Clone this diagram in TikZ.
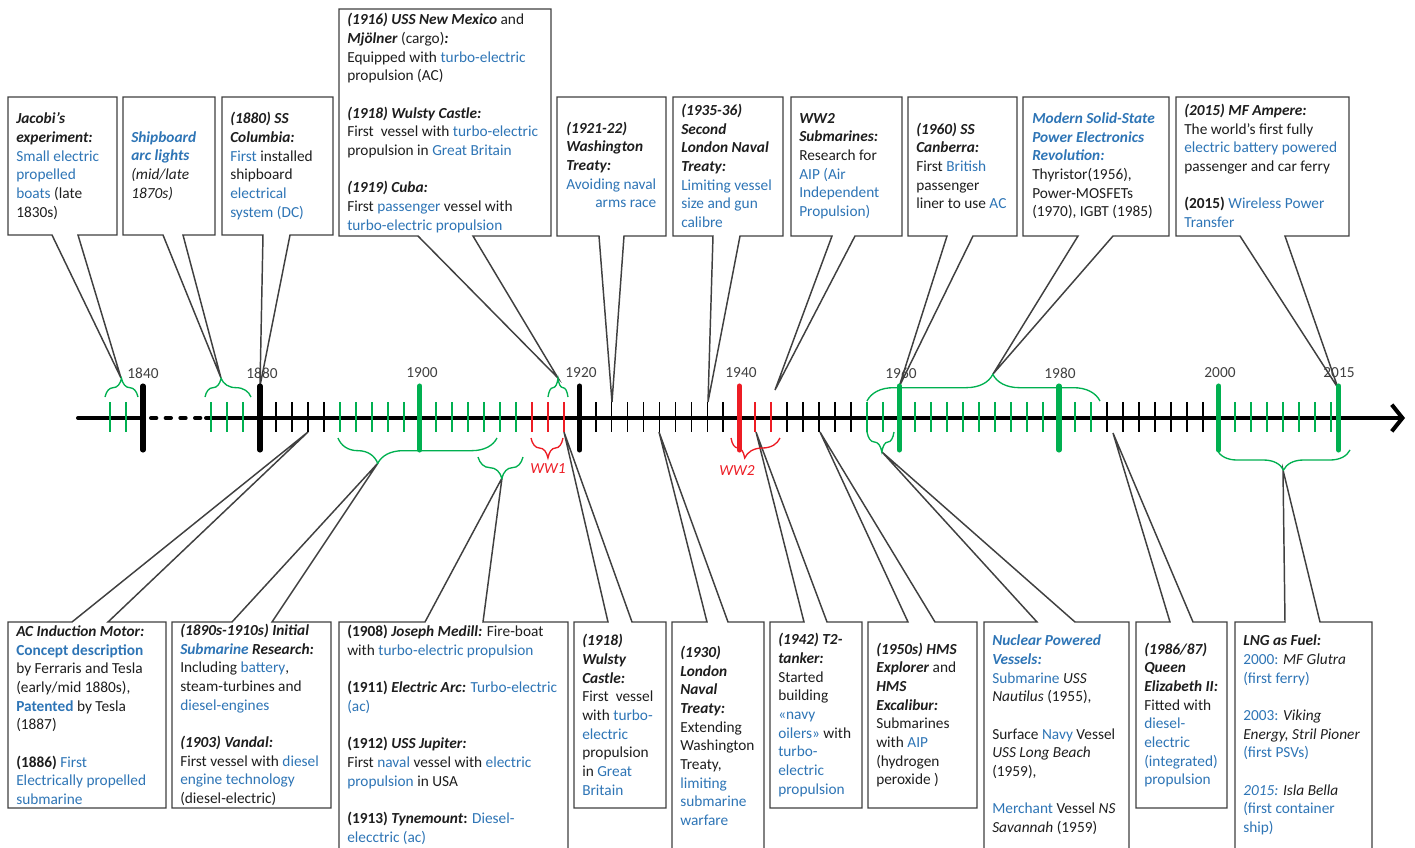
\documentclass[tikz,border=0pt]{standalone}
\usepackage{fontspec}
\setmainfont{Carlito}
\usetikzlibrary{decorations.pathreplacing,arrows.meta}
\definecolor{cblue}{RGB}{46,117,182}
\definecolor{cgreen}{RGB}{0,176,80}
\definecolor{cred}{RGB}{237,28,36}
\definecolor{cgray}{RGB}{64,64,64}
\definecolor{ctext}{RGB}{30,30,30}
\newcommand\bfi[1]{\textbf{\textit{#1}}}
\newcommand\blu[1]{\textcolor{cblue}{#1}}
\newcommand\bbi[1]{\textcolor{cblue}{\textbf{\textit{#1}}}}
\begin{document}
\begin{tikzpicture}[x=0.75pt,y=-0.75pt,
  box/.style={draw=cgray,line width=1.1pt,fill=white,line join=miter},
  txt/.style={anchor=west,inner sep=0pt,align=left,text=ctext,font=\fontsize{11.5pt}{14pt}\selectfont},
  yrl/.style={inner sep=0pt,text=cgray,font=\fontsize{11.5pt}{14pt}\selectfont},
  wwl/.style={inner sep=0pt,text=cred,font=\fontsize{11.5pt}{14pt}\selectfont\itshape},
  axisline/.style={line width=3pt,line cap=round,black},
  minortick/.style={line width=1.4pt},
  majortick/.style={line width=3.8pt,line cap=round},
  brc/.style={decorate,line width=1pt}]
\useasboundingbox (0,0) rectangle (1415,847);
\fill[white] (0,0) rectangle (1415,847);
\clip (0,0) rectangle (1415,847);

% ---------- tip coordinates on the timeline ----------
\coordinate (tA) at (121,378);
\coordinate (tB) at (221,378);
\coordinate (tC) at (260,386);
\coordinate (tD) at (558,378);
\coordinate (tE) at (612,402);
\coordinate (tF) at (708,402);
\coordinate (tG) at (775,390);
\coordinate (tH) at (899,387);
\coordinate (tI) at (993,374);
\coordinate (tJ) at (1338,388);
\coordinate (tK) at (308,432);
\coordinate (tL) at (378,463);
\coordinate (tM) at (502,478);
\coordinate (tN) at (564,432);
\coordinate (tO) at (659,432);
\coordinate (tP) at (756,432);
\coordinate (tQ) at (820,432);
\coordinate (tR) at (882,452);
\coordinate (tS) at (1113,433);
\coordinate (tT) at (1283,470);

% ---------- top callouts ----------
\draw[box] (8,97) -- (117,97) -- (117,235) -- (78,235) -- (tA) -- (52,235) -- (8,235) -- cycle;
\draw[box] (123,97) -- (215,97) -- (215,235) -- (183,235) -- (tB) -- (163,235) -- (123,235) -- cycle;
\draw[box] (222,97) -- (333,97) -- (333,235) -- (290,235) -- (tC) -- (263,235) -- (222,235) -- cycle;
\draw[box] (339,9) -- (551,9) -- (551,236) -- (473,236) -- (tD) -- (418,236) -- (339,236) -- cycle;
\draw[box] (557,97) -- (666,97) -- (666,236) -- (624,236) -- (tE) -- (599,236) -- (557,236) -- cycle;
\draw[box] (673,97) -- (783,97) -- (783,236) -- (740,236) -- (tF) -- (713,236) -- (673,236) -- cycle;
\draw[box] (791,97) -- (902,97) -- (902,236) -- (855,236) -- (tG) -- (832,236) -- (791,236) -- cycle;
\draw[box] (908,97) -- (1017,97) -- (1017,236) -- (973,236) -- (tH) -- (947,236) -- (908,236) -- cycle;
\draw[box] (1023,97) -- (1169,97) -- (1169,236) -- (1113,236) -- (tI) -- (1078,236) -- (1023,236) -- cycle;
\draw[box] (1176,97) -- (1349,97) -- (1349,236) -- (1285,236) -- (tJ) -- (1240,236) -- (1176,236) -- cycle;

% ---------- bottom callouts ----------
\draw[box] (8,622) -- (72,622) -- (tK) -- (108,622) -- (166,622) -- (166,808) -- (8,808) -- cycle;
\draw[box] (172,622) -- (232,622) -- (tL) -- (272,622) -- (331,622) -- (331,808) -- (172,808) -- cycle;
\draw[box] (339,622) -- (425,622) -- (tM) -- (483,622) -- (568,622) -- (568,855) -- (339,855) -- cycle;
\draw[box] (574,622) -- (608,622) -- (tN) -- (632,622) -- (666,622) -- (666,808) -- (574,808) -- cycle;
\draw[box] (672,622) -- (707,622) -- (tO) -- (728,622) -- (764,622) -- (764,855) -- (672,855) -- cycle;
\draw[box] (770,622) -- (804,622) -- (tP) -- (827,622) -- (862,622) -- (862,808) -- (770,808) -- cycle;
\draw[box] (868,622) -- (908,622) -- (tQ) -- (935,622) -- (977,622) -- (977,808) -- (868,808) -- cycle;
\draw[box] (984,622) -- (1037,622) -- (tR) -- (1075,622) -- (1129,622) -- (1129,855) -- (984,855) -- cycle;
\draw[box] (1136,622) -- (1170,622) -- (tS) -- (1193,622) -- (1227,622) -- (1227,808) -- (1136,808) -- cycle;
\draw[box] (1235,622) -- (1285,622) -- (tT) -- (1320,622) -- (1372,622) -- (1372,855) -- (1235,855) -- cycle;

% ---------- top texts ----------
\node[txt] (nA) at (16,166) {\bfi{Jacobi’s}\\ \bfi{experiment:}\\ \blu{Small electric}\\ \blu{propelled}\\ \blu{boats} (late\\ 1830s)};
\node[txt] (nB) at (131,166) {\bbi{Shipboard}\\ \bbi{arc lights}\\ \textit{(mid/late}\\ \textit{1870s)}};
\node[txt] (nC) at (230,166) {\bfi{(1880) SS}\\ \bfi{Columbia:}\\ \blu{First} installed\\ shipboard\\ \blu{electrical}\\ \blu{system (DC)}};
\node[txt] (nD) at (347,123) {\bfi{(1916) USS New Mexico} and\\ \bfi{Mjölner} (cargo)\bfi{:}\\ Equipped with \blu{turbo-electric}\\ propulsion (AC)\\[14pt] \bfi{(1918) Wulsty Castle:}\\ First\ \ vessel with \blu{turbo-electric}\\ propulsion in \blu{Great Britain}\\[14pt] \bfi{(1919) Cuba:}\\ First \blu{passenger} vessel with\\ \blu{turbo-electric propulsion}};
\node[txt] (nE) at (566,166) {\bfi{(1921-22)}\\ \bfi{Washington}\\ \bfi{Treaty:}\\ \blu{Avoiding naval}\\ \phantom{Avoiding naval}\llap{\blu{arms race}}};
\node[txt] (nF) at (681,166) {\bfi{(1935-36)}\\ \bfi{Second}\\ \bfi{London Naval}\\ \bfi{Treaty:}\\ \blu{Limiting vessel}\\ \blu{size and gun}\\ \blu{calibre}};
\node[txt] (nG) at (799,166) {\bfi{WW2}\\ \bfi{Submarines:}\\ Research for\\ \blu{AIP (Air}\\ \blu{Independent}\\ \blu{Propulsion)}};
\node[txt] (nH) at (916,166) {\bfi{(1960) SS}\\ \bfi{Canberra:}\\ First \blu{British}\\ passenger\\ liner to use \blu{AC}};
\node[txt] (nI) at (1032,166) {\bbi{Modern Solid-State}\\ \bbi{Power Electronics}\\ \bbi{Revolution:}\\ Thyristor(1956),\\ Power-MOSFETs\\ (1970), IGBT (1985)};
\node[txt] (nJ) at (1184,166) {\bfi{(2015) MF Ampere:}\\ The world’s first fully\\ \blu{electric battery powered}\\ passenger and car ferry\\[14pt] \textbf{(2015)} \blu{Wireless Power}\\ \blu{Transfer}};

% ---------- bottom texts ----------
\node[txt] (nK) at (16,715) {\bfi{AC Induction Motor:}\\ \blu{\textbf{Concept description}}\\ by Ferraris and Tesla\\ (early/mid 1880s),\\ \blu{\textbf{Patented}} by Tesla\\ (1887)\\[14pt] \textbf{(1886)} \blu{First}\\ \blu{Electrically propelled}\\ \blu{submarine}};
\node[txt] (nL) at (180,715) {\bfi{(1890s-1910s) Initial}\\ \bbi{Submarine} \bfi{Research:}\\ Including \blu{battery},\\ steam-turbines and\\ \blu{diesel-engines}\\[14pt] \bfi{(1903) Vandal:}\\ First vessel with \blu{diesel}\\ \blu{engine technology}\\ (diesel-electric)};
\node[txt] (nM) at (347,735) {\textbf{(1908)} \bfi{Joseph Medill:} Fire-boat\\ with \blu{turbo-electric propulsion}\\[14pt] \textbf{(1911)} \bfi{Electric Arc:} \blu{Turbo-electric}\\ \blu{(ac)}\\[14pt] \textbf{(1912)} \bfi{USS Jupiter:}\\ First \blu{naval} vessel with \blu{electric}\\ \blu{propulsion} in USA\\[14pt] \textbf{(1913)} \bfi{Tynemount}\textbf{:} \blu{Diesel-}\\ \blu{elecctric (ac)}};
\node[txt] (nN) at (582,715) {\bfi{(1918)}\\ \bfi{Wulsty}\\ \bfi{Castle:}\\ First\ \ vessel\\ with \blu{turbo-}\\ \blu{electric}\\ propulsion\\ in \blu{Great}\\ \blu{Britain}};
\node[txt] (nO) at (680,736) {\bfi{(1930)}\\ \bfi{London}\\ \bfi{Naval}\\ \bfi{Treaty:}\\ Extending\\ Washington\\ Treaty,\\ \blu{limiting}\\ \blu{submarine}\\ \blu{warfare}};
\node[txt] (nP) at (778,715) {\bfi{(1942) T2-}\\ \bfi{tanker:}\\ Started\\ building\\ \blu{«navy}\\ \blu{oilers»} with\\ \blu{turbo-}\\ \blu{electric}\\ \blu{propulsion}};
\node[txt] (nQ) at (876,715) {\bfi{(1950s) HMS}\\ \bfi{Explorer} and\\ \bfi{HMS}\\ \bfi{Excalibur:}\\ Submarines\\ with \blu{AIP}\\ (hydrogen\\ peroxide )};
\node[txt] (nR) at (992,735) {\bbi{Nuclear Powered}\\ \bbi{Vessels:}\\ \blu{Submarine} \textit{USS}\\ \textit{Nautilus} (1955),\\[14pt] Surface \blu{Navy} Vessel\\ \textit{USS Long Beach}\\ (1959),\\[14pt] \blu{Merchant} Vessel \textit{NS}\\ \textit{Savannah} (1959)};
\node[txt] (nS) at (1144,715) {\bfi{(1986/87)}\\ \bfi{Queen}\\ \bfi{Elizabeth II:}\\ Fitted with\\ \blu{diesel-}\\ \blu{electric}\\ \blu{(integrated)}\\ \blu{propulsion}};
\node[txt] (nT) at (1243,735) {\bfi{LNG as Fuel:}\\ \blu{2000:} \textit{MF Glutra}\\ \blu{(first ferry)}\\[14pt] \blu{2003:} \textit{Viking}\\ \textit{Energy, Stril Pioner}\\ \blu{(first PSVs)}\\[14pt] \blu{\textit{2015:}} \textit{Isla Bella}\\ \blu{(first container}\\ \blu{ship)}};

% ---------- axis ----------
\draw[axisline] (78,418) -- (143,418);
\draw[axisline,dash pattern=on 4pt off 7pt] (151,418) -- (203,418);
\draw[axisline,-{Straight Barb[length=8pt,width=20pt]},line join=round] (206,418) -- (1405,418);

% ---------- minor ticks ----------
\foreach \xp in {110,126,211,227,243}
  \draw[minortick,cgreen] (\xp,402) -- (\xp,432);
\foreach \yr in {1882,1884,1886,1888,1922,1924,1926,1928,1930,1932,1934,1936,1938,1946,1948,1950,1952,1954,1986,1988,1990,1992,1994,1996,1998}
  \draw[minortick,black] ({260+(\yr-1880)*7.99},402) -- ({260+(\yr-1880)*7.99},432);
\foreach \yr in {1890,1892,1894,1896,1898,1902,1904,1906,1908,1910,1912,1956,1958,1962,1964,1966,1968,1970,1972,1974,1976,1978,1982,1984,2002,2004,2006,2008,2010,2012,2014}
  \draw[minortick,cgreen] ({260+(\yr-1880)*7.99},402) -- ({260+(\yr-1880)*7.99},432);
\foreach \yr in {1914,1916,1918,1942,1944}
  \draw[minortick,cred] ({260+(\yr-1880)*7.99},402) -- ({260+(\yr-1880)*7.99},432);

% ---------- major ticks ----------
\draw[majortick,black] (143,386) -- (143,450);
\foreach \yr/\cc in {1880/black,1900/cgreen,1920/black,1940/cred,1960/cgreen,1980/cgreen,2000/cgreen,2015/cgreen}
  \draw[majortick,\cc] ({260+(\yr-1880)*7.99},386) -- ({260+(\yr-1880)*7.99},450);

% ---------- year labels ----------
\node[yrl] (y1840) at (143,373) {1840};
\node[yrl] (y1880) at (262,373) {1880};
\node[yrl] (y1900) at (422,373) {1900};
\node[yrl] (y1920) at (581,373) {1920};
\node[yrl] (y1940) at (741,373) {1940};
\node[yrl] (y1960) at (901,373) {1960};
\node[yrl] (y1980) at (1060,373) {1980};
\node[yrl] (y2000) at (1220,373) {2000};
\node[yrl] (y2015) at (1339,373) {2015};

% ---------- braces ----------
\draw[brc,cgreen,decoration={brace,amplitude=14pt,aspect=0.5}] (105,397) -- (138,397);
\draw[brc,cgreen,decoration={brace,amplitude=14pt,aspect=0.35}] (205,397) -- (251,397);
\draw[brc,cgreen,decoration={brace,amplitude=14pt,aspect=0.5}] (548,397) -- (568,397);
\draw[brc,cgreen,decoration={brace,amplitude=20pt,aspect=0.54}] (867,401) -- (1100,401);
\draw[brc,cgreen,decoration={brace,mirror,amplitude=19pt,aspect=0.25}] (338,438) -- (497,438);
\draw[brc,cgreen,decoration={brace,mirror,amplitude=16pt,aspect=0.53}] (478,457) -- (523,457);
\draw[brc,cred,decoration={brace,mirror,amplitude=15pt,aspect=0.53}] (531,438) -- (563,438);
\draw[brc,cred,decoration={brace,mirror,amplitude=15pt,aspect=0.28}] (731,438) -- (780,438);
\draw[brc,cgreen,decoration={brace,mirror,amplitude=15pt,aspect=0.55}] (867,432) -- (894,432);
\draw[brc,cgreen,decoration={brace,mirror,amplitude=15pt,aspect=0.5}] (1217,450) -- (1350,450);

\node[wwl] (ww1) at (548,469) {WW1};
\node[wwl] (ww2) at (737,471) {WW2};
\end{tikzpicture}
\end{document}
